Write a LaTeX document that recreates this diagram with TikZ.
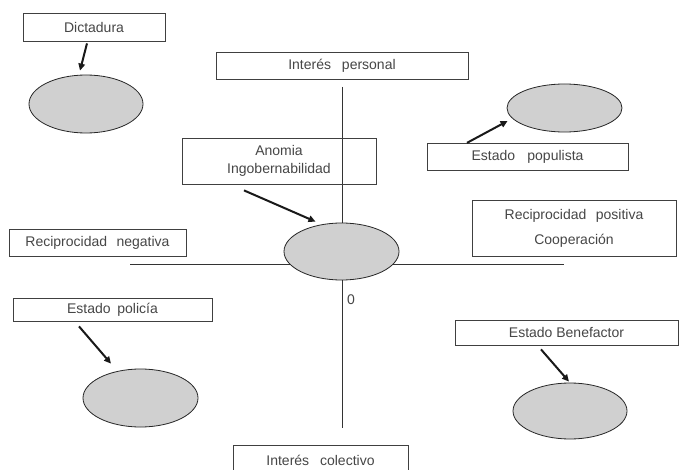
\documentclass[tikz,border=0pt]{standalone}
\usepackage{fontspec}
\setmainfont{Liberation Sans}
\usetikzlibrary{shapes.geometric,arrows.meta}
\definecolor{ovalfill}{RGB}{208,208,208}
\definecolor{inkgray}{RGB}{70,70,70}
\begin{document}
\begin{tikzpicture}[x=1pt,y=-1pt,
  every node/.style={font=\fontsize{14}{18}\selectfont, text=inkgray},
  lbox/.style={draw=black!75, line width=0.8pt, rectangle, inner sep=0pt},
  oval/.style={draw=black!85, line width=0.8pt, ellipse, fill=ovalfill, inner sep=0pt},
  axis/.style={draw=black!80, line width=0.8pt},
  pointer/.style={draw=black!90, line width=2pt, -{Triangle[length=7pt,width=6.5pt]}}
]
\clip (0,0) rectangle (679,470);
\fill[white] (0,0) rectangle (679,470);

% axes
\coordinate (vtop) at (342,87);
\coordinate (vbot) at (342,428);
\coordinate (hl) at (130,264);
\coordinate (hr) at (564,264);
\draw[axis] (vtop) -- (vbot);
\draw[axis] (hl) -- (hr);
\node (zero) at (351,300) {0};

% boxes
\node[lbox, minimum width=142, minimum height=28] (dict) at (94,27) {Dictadura};
\node[lbox, minimum width=252, minimum height=27] (ip) at (342,65.5) {Interés\hspace{0.5em} personal};
\node[lbox, minimum width=194, minimum height=46, align=center] (anom) at (279,161) {Anomia\\Ingobernabilidad};
\node[lbox, minimum width=201, minimum height=27.5] (pop) at (527.5,157) {Estado\hspace{0.6em} populista};
\node[lbox, minimum width=204, minimum height=56, align=center] (rp) at (574,228) {Reciprocidad\hspace{0.4em} positiva\\[7pt]Cooperación};
\node[lbox, minimum width=177, minimum height=27] (rn) at (97.5,242.5) {Reciprocidad\hspace{0.4em} negativa};
\node[lbox, minimum width=199, minimum height=23] (pol) at (112.5,309.5) {Estado\hspace{0.2em} policía};
\node[lbox, minimum width=223, minimum height=25] (ben) at (566.5,332.5) {Estado Benefactor};
\node[lbox, minimum width=175, minimum height=30] (ic) at (320.5,460) {Interés\hspace{0.5em} colectivo};

% ovals
\node[oval, minimum width=114, minimum height=58] (e1) at (86,104) {};
\node[oval, minimum width=115, minimum height=57] (ec) at (341.5,251.5) {};
\node[oval, minimum width=115, minimum height=48] (ep) at (564.5,108) {};
\node[oval, minimum width=115, minimum height=58] (epol) at (140.5,398) {};
\node[oval, minimum width=114, minimum height=56] (eben) at (570,411) {};

% pointers from labels to ovals
\draw[pointer] ([xshift=-7pt,yshift=-2pt]dict.south) -- ([xshift=-6pt,yshift=4pt]e1.north);
\draw[pointer] ([xshift=-35pt,yshift=-6pt]anom.south) -- ([xshift=-26pt,yshift=1pt]ec.north);
\draw[pointer] ([xshift=-60.5pt]pop.north) -- ([xshift=1pt,yshift=-13pt]ep.west);
\draw[pointer] ([xshift=-33.5pt,yshift=-5pt]pol.south) -- ([xshift=-29.5pt,yshift=5pt]epol.north);
\draw[pointer] ([xshift=-25.5pt,yshift=-4pt]ben.south) -- ([xshift=-1pt,yshift=1pt]eben.north);
\end{tikzpicture}
\end{document}
